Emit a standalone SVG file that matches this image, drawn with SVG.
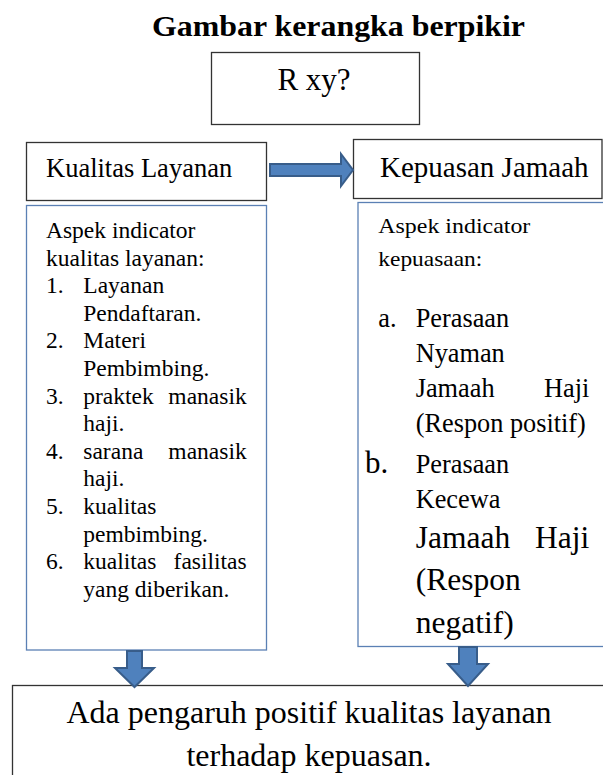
<svg xmlns="http://www.w3.org/2000/svg" width="603" height="775" viewBox="0 0 603 775">
<style>
text{font-family:"Liberation Serif","Times New Roman",serif;fill:#000}
.box{fill:#fff;stroke:#333;stroke-width:1.3}
.asp{fill:#fff;stroke:#5b80b4;stroke-width:1.3}
.arr{fill:#4f81bd;stroke:#385d8a;stroke-width:2;stroke-linejoin:miter}
.l{font-size:23.5px}
.h{font-size:21px}
.m{font-size:26.3px}
.b{font-size:31.5px}
</style>
<rect width="603" height="775" fill="#fff"/>
<g id="title"><text x="152" y="36" font-size="30" font-weight="bold" textLength="373" lengthAdjust="spacingAndGlyphs">Gambar kerangka berpikir</text></g>
<g id="rxy"><rect class="box" x="211.5" y="52.5" width="208" height="72"/><text x="314" y="90" font-size="31" text-anchor="middle">R xy?</text></g>
<g id="kualitas"><rect class="box" x="26.5" y="142.5" width="240" height="58"/><text x="46" y="177" font-size="26.5">Kualitas Layanan</text></g>
<g id="kepuasan"><rect class="box" x="353.5" y="139.5" width="248.5" height="59"/><text x="380" y="177" font-size="29">Kepuasan Jamaah</text></g>
<g id="aspek-kualitas"><rect class="asp" x="26.5" y="205.5" width="240" height="444.5"/>
<text class="l" x="46" y="238">Aspek indicator</text>
<text class="l" x="46" y="265.6">kualitas layanan:</text>
<text class="l" x="46" y="293.2">1.</text><text class="l" x="83.3" y="293.2">Layanan</text>
<text class="l" x="83.3" y="320.8">Pendaftaran.</text>
<text class="l" x="46" y="348.4">2.</text><text class="l" x="83.3" y="348.4">Materi</text>
<text class="l" x="83.3" y="376">Pembimbing.</text>
<text class="l" x="46" y="403.6">3.</text><text class="l" x="83.3" y="403.6">praktek</text><text class="l" x="246.7" y="403.6" text-anchor="end">manasik</text>
<text class="l" x="83.3" y="431.2">haji.</text>
<text class="l" x="46" y="458.8">4.</text><text class="l" x="83.3" y="458.8">sarana</text><text class="l" x="246.7" y="458.8" text-anchor="end">manasik</text>
<text class="l" x="83.3" y="486.4">haji.</text>
<text class="l" x="46" y="514">5.</text><text class="l" x="83.3" y="514">kualitas</text>
<text class="l" x="83.3" y="541.6">pembimbing.</text>
<text class="l" x="46" y="569.2">6.</text><text class="l" x="83.3" y="569.2">kualitas</text><text class="l" x="246.7" y="569.2" text-anchor="end">fasilitas</text>
<text class="l" x="83.3" y="596.8">yang diberikan.</text>
</g>
<g id="aspek-kepuasan"><rect class="asp" x="358" y="202.5" width="260" height="444"/>
<text class="h" x="378.3" y="233.3" textLength="152" lengthAdjust="spacingAndGlyphs">Aspek indicator</text>
<text class="h" x="378.3" y="266" textLength="104" lengthAdjust="spacingAndGlyphs">kepuasaan:</text>
<text class="m" x="378.3" y="326.7">a.</text><text class="m" x="415.7" y="326.7">Perasaan</text>
<text class="m" x="415.7" y="361.7">Nyaman</text>
<text class="m" x="415.7" y="396.7">Jamaah</text><text class="m" x="589.3" y="396.7" text-anchor="end">Haji</text>
<text class="m" x="415.7" y="431.7">(Respon positif)</text>
<text x="365" y="473" font-size="31" font-family="Liberation Sans, Arial, sans-serif">b.</text><text class="m" x="415.7" y="473">Perasaan</text>
<text class="m" x="415.7" y="508.3">Kecewa</text>
<text class="b" x="415.7" y="548.3">Jamaah</text><text class="b" x="589.3" y="548.3" text-anchor="end">Haji</text>
<text class="b" x="415.7" y="590">(Respon</text>
<text class="b" x="415.7" y="633">negatif)</text>
</g>
<g id="kesimpulan"><rect class="box" x="12.5" y="685.5" width="600" height="100"/>
<text x="309" y="723" font-size="32" text-anchor="middle">Ada pengaruh positif kualitas layanan</text>
<text x="309" y="766" font-size="32" text-anchor="middle">terhadap kepuasan.</text>
</g>
<g id="connectors">
<path class="arr" d="M270,164 L341,164 L341,154 L353,170 L341,186 L341,176 L270,176 Z"/>
<path class="arr" d="M127,651 L142,651 L142,668 L154,668 L134.5,687 L115,668 L127,668 Z"/>
<path class="arr" d="M459,647 L477,647 L477,664 L488,664 L468,686 L448,664 L459,664 Z"/>
</g>
</svg>
